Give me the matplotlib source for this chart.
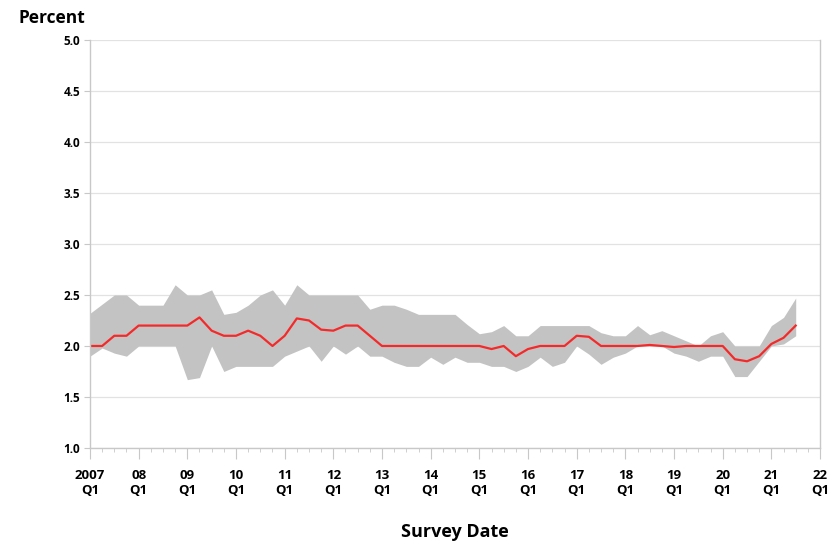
import matplotlib.pyplot as plt
import numpy as np

plt.rcParams["font.family"] = ["Open Sans", "DejaVu Sans"]
plt.rcParams["font.stretch"] = "condensed"

# Quarterly survey results, 2007Q1 .. 2021Q3
start_year = 2007
median = [2.0, 2.0, 2.1, 2.1, 2.2, 2.2, 2.2, 2.2, 2.2, 2.28,
          2.15, 2.1, 2.1, 2.15, 2.1, 2.0, 2.1, 2.27, 2.25, 2.16,
          2.15, 2.2, 2.2, 2.1, 2.0, 2.0, 2.0, 2.0, 2.0, 2.0,
          2.0, 2.0, 2.0, 1.97, 2.0, 1.9, 1.97, 2.0, 2.0, 2.0,
          2.1, 2.09, 2.0, 2.0, 2.0, 2.0, 2.01, 2.0, 1.99, 2.0,
          2.0, 2.0, 2.0, 1.87, 1.85, 1.9, 2.02, 2.08, 2.2]
upper = [2.32, 2.41, 2.5, 2.5, 2.4, 2.4, 2.4, 2.6, 2.5, 2.5,
         2.55, 2.31, 2.33, 2.4, 2.5, 2.55, 2.4, 2.6, 2.5, 2.5,
         2.5, 2.5, 2.5, 2.36, 2.4, 2.4, 2.36, 2.31, 2.31, 2.31,
         2.31, 2.21, 2.12, 2.14, 2.2, 2.1, 2.1, 2.2, 2.2, 2.2,
         2.2, 2.2, 2.13, 2.1, 2.1, 2.2, 2.11, 2.15, 2.1, 2.05,
         2.0, 2.1, 2.14, 2.0, 2.0, 2.0, 2.2, 2.28, 2.47]
lower = [1.9, 1.98, 1.93, 1.9, 2.0, 2.0, 2.0, 2.0, 1.67, 1.69,
         2.0, 1.75, 1.8, 1.8, 1.8, 1.8, 1.9, 1.95, 2.0, 1.85,
         2.0, 1.92, 2.0, 1.9, 1.9, 1.84, 1.8, 1.8, 1.89, 1.82,
         1.89, 1.84, 1.84, 1.8, 1.8, 1.75, 1.8, 1.89, 1.8, 1.84,
         2.0, 1.92, 1.82, 1.89, 1.93, 2.0, 2.0, 2.0, 1.93, 1.9,
         1.85, 1.9, 1.9, 1.7, 1.7, 1.85, 2.0, 2.02, 2.1]

year_labels = ["2007\nQ1"] + [f"{y % 100:02d}\nQ1" for y in range(2008, 2023)]

x = start_year + np.arange(len(median)) / 4.0

fig = plt.figure(figsize=(8.3, 5.47), dpi=100)
ax = fig.add_axes([0.1084, 0.181, 0.8796, 0.746])

ax.fill_between(x, lower, upper, color="#c3c3c3", linewidth=0)
ax.plot(x, median, color="#f42a2a", linewidth=1.6)

ax.set_xlim(2007, 2022)
ax.set_ylim(1.0, 5.0)

# Axes styling
for side in ["left", "bottom", "right"]:
    ax.spines[side].set_color("#c8c8c8")
    ax.spines[side].set_linewidth(1.0)
ax.spines["top"].set_visible(False)

ax.set_yticks(np.arange(1.0, 5.01, 0.5))
ax.set_yticklabels([f"{v:.1f}" for v in np.arange(1.0, 5.01, 0.5)],
                   fontsize=8.5, fontweight="bold")
ax.yaxis.grid(True, color="#e2e2e2", linewidth=0.9)
ax.set_axisbelow(True)

ax.set_xticks(np.arange(2007, 2023))
ax.set_xticklabels(year_labels, fontsize=9.5, fontweight="bold",
                   linespacing=1.25)
ax.set_xticks(np.arange(2007, 2022.01, 0.25), minor=True)
ax.tick_params(axis="x", which="major", length=8, color="#c8c8c8", pad=7)
ax.tick_params(axis="x", which="minor", length=3, color="#c8c8c8")
ax.tick_params(axis="y", length=4, color="#c8c8c8", pad=3)
ax.tick_params(axis="y", right=False)

fig.text(0.022, 0.968, "Percent", fontsize=12.5, fontweight="bold",
         ha="left", va="center")
fig.text(0.548, 0.027, "Survey Date", fontsize=13, fontweight="bold",
         ha="center", va="center")

fig.savefig("out.png", dpi=100)
